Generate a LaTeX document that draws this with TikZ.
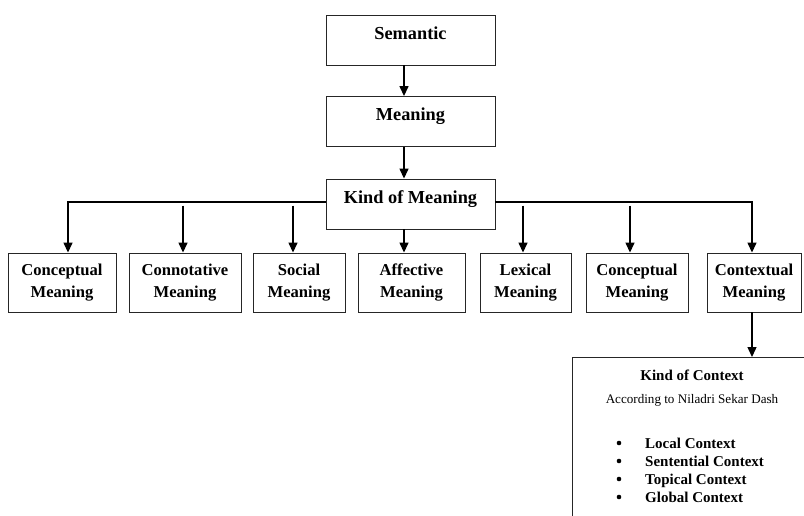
\documentclass[tikz,border=0pt]{standalone}
\usepackage{fontspec}
\setmainfont{Liberation Serif}
\usetikzlibrary{arrows.meta,calc}
\begin{document}
\begin{tikzpicture}[x=1pt,y=-1pt,
  boxline/.style={draw=black!85,line width=0.9pt,fill=white,inner sep=0pt},
  topbox/.style={boxline,minimum width=169pt,text height=24pt,text depth=26pt,
    font=\fontsize{18.3}{22}\selectfont\bfseries},
  subbox/.style={boxline,minimum height=59pt,align=center,
    font=\fontsize{16.6}{22}\selectfont\bfseries},
  arr/.style={line width=1.4pt,-{Triangle[width=9pt,length=10pt]}},
  item/.style={anchor=base west,inner sep=0pt,font=\fontsize{15}{18}\selectfont\bfseries},
  dotm/.style={circle,fill=black,inner sep=0pt,minimum size=4.6pt}]
\useasboundingbox (0,0) rectangle (804,515);
\clip (0,0) rectangle (804,515);
\fill[white] (0,0) rectangle (804,515);
% top column
\node[topbox] (sem) at (410.5,40) {Semantic};
\node[topbox] (mean) at (410.5,121.5) {Meaning};
\node[topbox] (kind) at (410.5,204) {Kind of Meaning};
\draw[arr] ([xshift=-6.5pt]sem.south) -- ([xshift=-6.5pt]mean.north);
\draw[arr] ([xshift=-6.5pt]mean.south) -- ([xshift=-6.5pt]kind.north);
% sub boxes
\node[subbox,minimum width=108pt] (b1) at (62,282.5) {Conceptual\\Meaning};
\node[subbox,minimum width=112pt] (b2) at (185,282.5) {Connotative\\Meaning};
\node[subbox,minimum width=92pt] (b3) at (299,282.5) {Social\\Meaning};
\node[subbox,minimum width=107pt] (b4) at (411.5,282.5) {Affective\\Meaning};
\node[subbox,minimum width=91pt] (b5) at (525.5,282.5) {Lexical\\Meaning};
\node[subbox,minimum width=102pt] (b6) at (637,282.5) {Conceptual\\Meaning};
\node[subbox,minimum width=94pt] (b7) at (754,282.5) {Contextual\\Meaning};
% connectors
\draw[arr] ([yshift=2pt]kind.west) -| ([xshift=6pt]b1.north);
\draw[arr] ([xshift=-2pt]b2.north) ++(0,-47) -- ([xshift=-2pt]b2.north);
\draw[arr] ([xshift=-6pt]b3.north) ++(0,-47) -- ([xshift=-6pt]b3.north);
\draw[arr] ([xshift=-7.5pt]b4.north |- kind.south) -- ([xshift=-7.5pt]b4.north);
\draw[arr] ([yshift=2pt]kind.east) -| ([xshift=-2pt]b7.north);
\draw[arr] ([xshift=-2.5pt]b5.north) ++(0,-47) -- ([xshift=-2.5pt]b5.north);
\draw[arr] ([xshift=-7pt]b6.north) ++(0,-47) -- ([xshift=-7pt]b6.north);
% context box
\node[boxline,anchor=north west,minimum width=250pt,minimum height=180pt] (ctx) at (572,357) {};
\draw[arr] ([xshift=-2pt]b7.south) -- ([xshift=-2pt]b7.south |- ctx.north);
\node[inner sep=0pt,font=\fontsize{15}{18}\selectfont\bfseries] (kc) at (692,375) {Kind of Context};
\node[inner sep=0pt,font=\fontsize{13.1}{16}\selectfont] (acc) at (692,400) {According to Niladri Sekar Dash};
\node[dotm] (d1) at (619,443) {};
\node[dotm] (d2) at (619,461) {};
\node[dotm] (d3) at (619,479) {};
\node[dotm] (d4) at (619,497) {};
\node[item] (i1) at (645,448.5) {Local Context};
\node[item] (i2) at (645,466.5) {Sentential Context};
\node[item] (i3) at (645,484.5) {Topical Context};
\node[item] (i4) at (645,502.5) {Global Context};
\end{tikzpicture}
\end{document}
